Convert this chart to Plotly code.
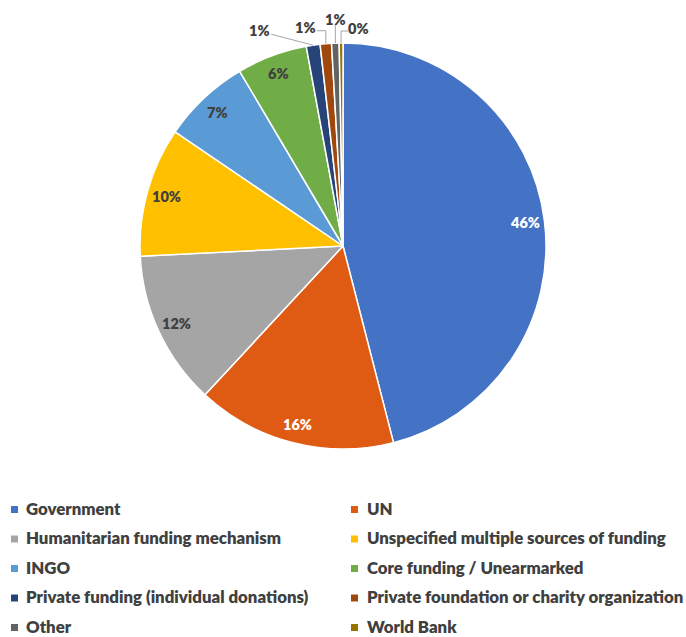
import math
import plotly.graph_objects as go

# Funding sources and their share of total funding (%)
sources = [
    "Government",
    "UN",
    "Humanitarian funding mechanism",
    "Unspecified multiple sources of funding",
    "INGO",
    "Core funding / Unearmarked",
    "Private funding (individual donations)",
    "Private foundation or charity organization",
    "Other",
    "World Bank",
]
shares = [46.0, 15.9, 12.3, 10.3, 7.0, 5.6, 1.1, 0.9, 0.6, 0.3]
colors = ["#4472C4", "#DF5A13", "#A5A5A5", "#FFC000", "#5B9BD5",
          "#70AD47", "#264478", "#9E480E", "#636363", "#997300"]
label_colors = ["white", "white"] + ["#404040"] * 8

FONT = "Lato, 'Open Sans', sans-serif"
WEIGHT = 800
TEXT_DARK = "#404040"
LEADER = "#A6A6A6"

# Page geometry (pixels); the pie fills the plot area height
W, H = 686, 637
M_T, M_B = 43, 188
PLOT_H = H - M_T - M_B
R = PLOT_H / 2
CX, CY = W / 2, M_T + R


def to_paper(px, py):
    return px / W, (M_T + PLOT_H - py) / PLOT_H


def polar(angle_deg, radius):
    a = math.radians(angle_deg)
    return CX + radius * math.sin(a), CY - radius * math.cos(a)


total = sum(shares)
pct_text = [f"{round(v / total * 100)}%" for v in shares]

fig = go.Figure(go.Pie(
    labels=sources,
    values=shares,
    sort=False,
    direction="clockwise",
    rotation=0,
    marker=dict(colors=colors, line=dict(color="white", width=1.5)),
    textinfo="none",
    hoverinfo="label+percent",
    showlegend=False,
))

annotations = []
shapes = []

# Slice labels: large slices labelled inside near the rim,
# small slices labelled outside with leader lines
outside_offsets = {6: (-54, -15), 7: (-20, -16), 8: (0, -24), 9: (17, -15)}
cum = 0.0
for i, v in enumerate(shares):
    a0 = cum / total * 360
    cum += v
    a1 = cum / total * 360
    mid = (a0 + a1) / 2
    if i not in outside_offsets:
        px, py = polar(mid, 0.905 * R)
        x, y = to_paper(px, py)
        annotations.append(dict(
            x=x, y=y, xref="paper", yref="paper", text=pct_text[i],
            showarrow=False, xanchor="center", yanchor="middle",
            font=dict(family=FONT, size=14.5, color=label_colors[i], weight=WEIGHT),
        ))
    else:
        ex, ey = polar(mid, R)
        dx, dy = outside_offsets[i]
        lx, ly = ex + dx, ey + dy
        x, y = to_paper(lx, ly)
        annotations.append(dict(
            x=x, y=y, xref="paper", yref="paper", text=pct_text[i],
            showarrow=False, xanchor="center", yanchor="middle",
            font=dict(family=FONT, size=14.5, color=TEXT_DARK, weight=WEIGHT),
        ))
        if dx < -30:
            pts = [(lx + 12, ly + 4), (ex, ey)]
        elif dx < -5:
            pts = [(lx + 11, ly + 3), (ex, ly + 3), (ex, ey)]
        elif dx > 5:
            pts = [(lx - 10, ly + 3), (ex, ly + 3), (ex, ey)]
        else:
            pts = [(ex, ly + 6), (ex, ey)]
        path = ""
        for k, (qx, qy) in enumerate(pts):
            sx, sy = to_paper(qx, qy)
            path += ("M" if k == 0 else "L") + f"{sx:.5f},{sy:.5f} "
        shapes.append(dict(type="path", path=path, xref="paper", yref="paper",
                           line=dict(color=LEADER, width=1)))

# Two-column legend below the pie
col_square_x = [11, 351]
col_text_x = [24, 365]
row_y0, row_step, sq = 508, 29.5, 7
for i, name in enumerate(sources):
    col, row = i % 2, i // 2
    yc = row_y0 + row * row_step
    x0, y0 = to_paper(col_square_x[col], yc + sq / 2 + 1.5)
    x1, y1 = to_paper(col_square_x[col] + sq, yc - sq / 2 + 1.5)
    shapes.append(dict(type="rect", xref="paper", yref="paper",
                       x0=x0, y0=y0, x1=x1, y1=y1,
                       fillcolor=colors[i], line=dict(width=0)))
    tx, ty = to_paper(col_text_x[col], yc)
    annotations.append(dict(
        x=tx, y=ty, xref="paper", yref="paper", text=name,
        showarrow=False, xanchor="left", yanchor="middle",
        font=dict(family=FONT, size=16.8, color=TEXT_DARK, weight=WEIGHT),
    ))

fig.update_layout(
    width=W, height=H,
    margin=dict(l=0, r=0, t=M_T, b=M_B),
    paper_bgcolor="white",
    plot_bgcolor="white",
    annotations=annotations,
    shapes=shapes,
)

fig.write_html("out.html")
